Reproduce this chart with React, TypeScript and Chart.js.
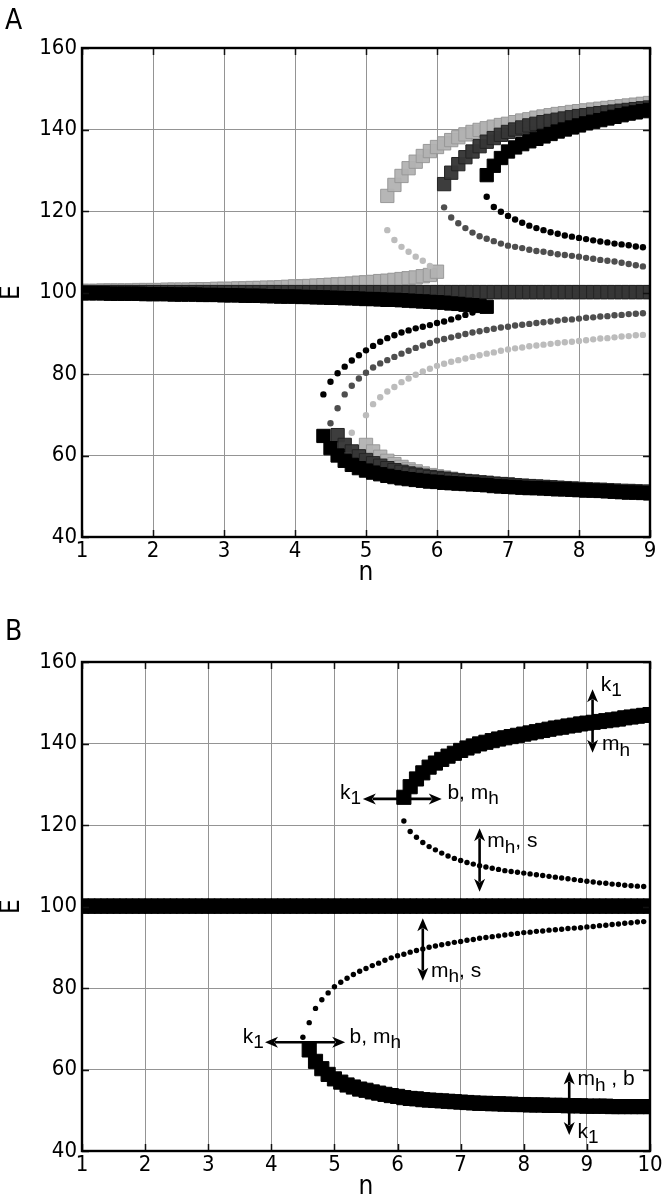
import { useEffect, useRef } from 'react';
import { Chart, registerables } from 'chart.js';
Chart.register(...registerables);

// ---------- grids of n values (typed) ----------
const N_A = [
  1.0, 1.1, 1.2, 1.3, 1.4, 1.5, 1.6, 1.7, 1.8, 1.9,
  2.0, 2.1, 2.2, 2.3, 2.4, 2.5, 2.6, 2.7, 2.8, 2.9,
  3.0, 3.1, 3.2, 3.3, 3.4, 3.5, 3.6, 3.7, 3.8, 3.9,
  4.0, 4.1, 4.2, 4.3, 4.4, 4.5, 4.6, 4.7, 4.8, 4.9,
  5.0, 5.1, 5.2, 5.3, 5.4, 5.5, 5.6, 5.7, 5.8, 5.9,
  6.0, 6.1, 6.2, 6.3, 6.4, 6.5, 6.6, 6.7, 6.8, 6.9,
  7.0, 7.1, 7.2, 7.3, 7.4, 7.5, 7.6, 7.7, 7.8, 7.9,
  8.0, 8.1, 8.2, 8.3, 8.4, 8.5, 8.6, 8.7, 8.8, 8.9,
  9.0,
];
const N_B = [
  1.0, 1.1, 1.2, 1.3, 1.4, 1.5, 1.6, 1.7, 1.8, 1.9,
  2.0, 2.1, 2.2, 2.3, 2.4, 2.5, 2.6, 2.7, 2.8, 2.9,
  3.0, 3.1, 3.2, 3.3, 3.4, 3.5, 3.6, 3.7, 3.8, 3.9,
  4.0, 4.1, 4.2, 4.3, 4.4, 4.5, 4.6, 4.7, 4.8, 4.9,
  5.0, 5.1, 5.2, 5.3, 5.4, 5.5, 5.6, 5.7, 5.8, 5.9,
  6.0, 6.1, 6.2, 6.3, 6.4, 6.5, 6.6, 6.7, 6.8, 6.9,
  7.0, 7.1, 7.2, 7.3, 7.4, 7.5, 7.6, 7.7, 7.8, 7.9,
  8.0, 8.1, 8.2, 8.3, 8.4, 8.5, 8.6, 8.7, 8.8, 8.9,
  9.0, 9.1, 9.2, 9.3, 9.4, 9.5, 9.6, 9.7, 9.8, 9.9,
  10.0,
];

// ---------- tick labels ----------
const X_TICKS_A = [1, 2, 3, 4, 5, 6, 7, 8, 9];
const X_TICKS_B = [1, 2, 3, 4, 5, 6, 7, 8, 9, 10];
const Y_TICKS = [40, 60, 80, 100, 120, 140, 160];

// ---------- panel A : black parameter set ----------
const A_K_MID_START = 1.0;
const A_K_MID = [
  99.8, 99.8, 99.8, 99.8, 99.7, 99.7, 99.7, 99.7, 99.7, 99.6, 99.6,
  99.6, 99.6, 99.5, 99.5, 99.5, 99.5, 99.4, 99.4, 99.4, 99.3,
  99.3, 99.3, 99.2, 99.2, 99.2, 99.1, 99.1, 99.0, 99.0, 99.0,
  98.9, 98.9, 98.8, 98.8, 98.7, 98.7, 98.6, 98.6, 98.5, 98.4,
  98.4, 98.3, 98.2, 98.2, 98.1, 98.0, 97.9, 97.8, 97.7, 97.6,
  97.5, 97.3, 97.2, 97.0, 96.9, 96.7, 96.5,
];
const A_K_LOWU_START = 4.4;
const A_K_LOWU = [
  75.0, 78.1, 80.2, 81.8, 83.3, 84.6, 85.8, 86.9, 87.9, 88.8, 89.5, 90.2,
  90.7, 91.2, 91.6, 92.0, 92.5, 92.9, 93.4, 93.9, 94.5, 95.1, 95.8,
];
const A_K_UPU_START = 6.7;
const A_K_UPU = [
  123.5, 121.0, 119.8, 118.8, 117.9, 117.1, 116.4, 115.8, 115.3, 114.8, 114.4, 114.0,
  113.7, 113.4, 113.1, 112.8, 112.5, 112.3, 112.0, 111.8, 111.6, 111.3, 111.1,
];
const A_K_UP_START = 6.7;
const A_K_UP = [
  128.8, 131.1, 133.0, 134.6, 135.6, 136.4, 137.1, 137.7, 138.3, 138.9, 139.5, 140.0,
  140.5, 141.0, 141.5, 141.9, 142.3, 142.7, 143.1, 143.5, 143.9, 144.2, 144.5, 144.8,
];
const A_K_LOW_START = 4.4;
const A_K_LOW = [
  64.8, 61.8, 60.0, 58.7, 57.7, 56.9, 56.3, 55.8, 55.4, 55.0,
  54.7, 54.4, 54.2, 54.0, 53.8, 53.6, 53.5, 53.3, 53.2, 53.1,
  53.0, 52.9, 52.8, 52.7, 52.5, 52.4, 52.3, 52.2, 52.1, 52.0,
  52.0, 51.9, 51.8, 51.7, 51.7, 51.6, 51.5, 51.4, 51.4, 51.3,
  51.2, 51.1, 51.0, 50.9, 50.9, 50.8, 50.7,
];

// ---------- panel A : dark grey parameter set ----------
const A_D_MID_START = 1.0;
const A_D_MID = [
  100.1, 100.1, 100.1, 100.1, 100.1, 100.1, 100.1, 100.1, 100.1, 100.1,
  100.1, 100.1, 100.1, 100.1, 100.1, 100.1, 100.1, 100.1, 100.1, 100.1,
  100.1, 100.1, 100.1, 100.1, 100.1, 100.1, 100.1, 100.1, 100.1, 100.1,
  100.1, 100.1, 100.1, 100.1, 100.1, 100.1, 100.1, 100.1, 100.1, 100.1,
  100.1, 100.1, 100.1, 100.1, 100.1, 100.1, 100.1, 100.1, 100.1, 100.1,
  100.1, 100.1, 100.1, 100.1, 100.1, 100.1, 100.1, 100.1, 100.1, 100.1,
  100.1, 100.1, 100.1, 100.1, 100.1, 100.1, 100.1, 100.1, 100.1, 100.1,
  100.1, 100.1, 100.1, 100.1, 100.1, 100.1, 100.1, 100.1, 100.1, 100.1,
  100.1,
];
const A_D_LOWU_START = 4.5;
const A_D_LOWU = [
  67.9, 71.6, 75.0, 77.1, 78.9, 80.3, 81.6, 82.6, 83.4, 84.2,
  85.0, 85.7, 86.4, 87.0, 87.6, 88.2, 88.6, 89.0, 89.4, 89.8,
  90.2, 90.5, 90.8, 91.1, 91.4, 91.6, 91.9, 92.1, 92.3, 92.5,
  92.7, 92.9, 93.1, 93.3, 93.4, 93.6, 93.8, 93.9, 94.1, 94.2,
  94.4, 94.5, 94.7, 94.8, 94.9,
];
const A_D_LOW_START = 4.6;
const A_D_LOW = [
  65.0, 62.6, 61.0, 59.8, 58.9, 58.1, 57.5, 56.9, 56.4, 56.0,
  55.6, 55.3, 55.0, 54.7, 54.5, 54.3, 54.1, 53.9, 53.7, 53.6,
  53.4, 53.3, 53.1, 53.0, 52.9, 52.7, 52.6, 52.5, 52.4, 52.3,
  52.2, 52.1, 52.0, 51.9, 51.8, 51.7, 51.6, 51.6, 51.5, 51.4,
  51.3, 51.3, 51.2, 51.1, 51.1,
];
const A_D_UPU_START = 6.1;
const A_D_UPU = [
  120.9, 118.4, 117.0, 115.8, 114.7, 113.8, 113.2, 112.6, 112.0, 111.5,
  111.2, 110.9, 110.5, 110.2, 110.0, 109.7, 109.4, 109.2, 109.0, 108.8,
  108.5, 108.3, 108.0, 107.8, 107.6, 107.3, 107.0, 106.7, 106.4,
];
const A_D_UP_START = 6.1;
const A_D_UP = [
  126.6, 129.4, 131.5, 133.2, 134.6, 135.9, 137.0, 137.9, 138.7, 139.4,
  140.0, 140.5, 141.0, 141.4, 141.8, 142.1, 142.4, 142.7, 143.0, 143.3,
  143.5, 143.8, 144.0, 144.2, 144.4, 144.6, 144.8, 145.0, 145.2, 145.4,
];

// ---------- panel A : light grey parameter set ----------
const A_L_MID_START = 1.0;
const A_L_MID = [
  100.4, 100.4, 100.4, 100.5, 100.5, 100.5, 100.5, 100.5, 100.6, 100.6,
  100.6, 100.6, 100.7, 100.7, 100.7, 100.7, 100.8, 100.8, 100.8, 100.9,
  100.9, 100.9, 101.0, 101.0, 101.1, 101.1, 101.2, 101.2, 101.3, 101.4,
  101.5, 101.5, 101.6, 101.7, 101.8, 101.9, 102.0, 102.1, 102.2, 102.4,
  102.5, 102.6, 102.8, 102.9, 103.1, 103.3, 103.5, 103.7, 104.0, 104.3,
  105.1,
];
const A_L_UPU_START = 5.3;
const A_L_UPU = [115.3, 112.9, 111.2, 110.0, 108.8, 107.8, 106.5];
const A_L_UP_START = 5.3;
const A_L_UP = [
  123.7, 126.4, 128.6, 130.5, 132.1, 133.5, 134.7, 135.7, 136.6, 137.4,
  138.1, 138.8, 139.4, 139.9, 140.3, 140.7, 141.1, 141.4, 141.8, 142.2,
  142.5, 142.9, 143.2, 143.5, 143.8, 144.0, 144.3, 144.5, 144.7, 144.9,
  145.1, 145.3, 145.5, 145.7, 145.9, 146.1, 146.3, 146.5,
];
const A_L_LOWU_START = 4.8;
const A_L_LOWU = [
  65.6, null, 69.9, 72.6, 74.3, 75.7, 76.8, 78.0, 78.9, 79.8, 80.6, 81.3,
  82.0, 82.5, 83.0, 83.4, 83.8, 84.2, 84.6, 85.0, 85.3, 85.7,
  86.0, 86.3, 86.5, 86.8, 87.0, 87.2, 87.4, 87.6, 87.8, 87.9,
  88.1, 88.3, 88.5, 88.7, 88.8, 89.0, 89.2, 89.3, 89.5, 89.6,
];
const A_L_LOW_START = 5.0;
const A_L_LOW = [
  62.6, 61.0, 59.7, 58.7, 57.9, 57.2, 56.6, 56.1, 55.6, 55.2,
  54.9, 54.6, 54.3, 54.0, 53.8, 53.6, 53.4, 53.2, 53.0, 52.9,
  52.7, 52.6, 52.5, 52.3, 52.2, 52.1, 52.0, 51.9, 51.8, 51.7,
  51.7, 51.6, 51.5, 51.4, 51.4, 51.3, 51.2, 51.2, 51.1, 51.1,
  51.0,
];

// ---------- panel B ----------
const B_MID_START = 1.0;
const B_MID = [
  100.1, 100.1, 100.1, 100.1, 100.1, 100.1, 100.1, 100.1, 100.1, 100.1,
  100.1, 100.1, 100.1, 100.1, 100.1, 100.1, 100.1, 100.1, 100.1, 100.1,
  100.1, 100.1, 100.1, 100.1, 100.1, 100.1, 100.1, 100.1, 100.1, 100.1,
  100.1, 100.1, 100.1, 100.1, 100.1, 100.1, 100.1, 100.1, 100.1, 100.1,
  100.1, 100.1, 100.1, 100.1, 100.1, 100.1, 100.1, 100.1, 100.1, 100.1,
  100.1, 100.1, 100.1, 100.1, 100.1, 100.1, 100.1, 100.1, 100.1, 100.1,
  100.1, 100.1, 100.1, 100.1, 100.1, 100.1, 100.1, 100.1, 100.1, 100.1,
  100.1, 100.1, 100.1, 100.1, 100.1, 100.1, 100.1, 100.1, 100.1, 100.1,
  100.1, 100.1, 100.1, 100.1, 100.1, 100.1, 100.1, 100.1, 100.1, 100.1,
  100.1,
];
const B_UP_START = 6.1;
const B_UP = [
  126.8, 129.4, 131.3, 132.8, 134.2, 135.2, 136.1, 136.9, 137.6, 138.3,
  138.9, 139.4, 139.9, 140.3, 140.7, 141.1, 141.4, 141.7, 142.0, 142.3,
  142.6, 142.9, 143.2, 143.5, 143.8, 144.0, 144.3, 144.5, 144.8, 145.0,
  145.2, 145.4, 145.6, 145.8, 146.0, 146.3, 146.5, 146.7, 146.9, 147.1,
];
const B_UPU_START = 6.1;
const B_UPU = [
  121.0, 118.4, 117.0, 115.7, 114.7, 113.9, 113.1, 112.4, 111.8, 111.3,
  110.8, 110.4, 110.0, 109.7, 109.4, 109.1, 108.8, 108.6, 108.4, 108.2,
  108.0, 107.8, 107.6, 107.4, 107.2, 107.0, 106.8, 106.6, 106.4, 106.2,
  106.0, 105.8, 105.7, 105.5, 105.4, 105.2, 105.1, 105.0, 104.9,
];
const B_LOWU_START = 4.5;
const B_LOWU = [
  67.9, 71.5, 75.0, 77.1, 78.8, 80.3, 81.4, 82.4, 83.3, 84.1,
  84.8, 85.5, 86.1, 86.8, 87.4, 87.9, 88.3, 88.8, 89.2, 89.6,
  90.0, 90.3, 90.6, 90.9, 91.2, 91.4, 91.7, 91.9, 92.2, 92.4,
  92.6, 92.8, 93.0, 93.2, 93.4, 93.6, 93.7, 93.9, 94.0, 94.2,
  94.3, 94.4, 94.6, 94.7, 94.8, 95.0, 95.1, 95.3, 95.4, 95.6,
  95.7, 95.9, 96.0, 96.2, 96.3,
];
const B_LOW_START = 4.6;
const B_LOW = [
  64.8, 62.0, 60.2, 58.8, 57.7, 56.9, 56.2, 55.7, 55.2, 54.9,
  54.5, 54.2, 53.9, 53.6, 53.4, 53.1, 52.9, 52.8, 52.6, 52.5,
  52.4, 52.3, 52.2, 52.1, 52.0, 51.9, 51.8, 51.7, 51.7, 51.6,
  51.6, 51.5, 51.5, 51.4, 51.4, 51.3, 51.3, 51.3, 51.2, 51.2,
  51.2, 51.1, 51.1, 51.1, 51.0, 51.0, 51.0, 51.0, 50.9, 50.9,
  50.9, 50.9, 50.9, 50.9, 50.9,
];

// ---------- panel B annotations (data coordinates) ----------
// double-headed arrows: [n1, E1, n2, E2]
const B_ARROWS = [
  [9.09, 153.3, 9.09, 137.7],
  [5.45, 126.4, 6.70, 126.4],
  [7.30, 119.2, 7.30, 103.6],
  [6.40, 97.1, 6.40, 81.8],
  [3.90, 66.7, 5.17, 66.7],
  [8.72, 59.5, 8.72, 43.9],
];
// labels: [n, E, align, segments]  segment: [text, isSubscript]
const B_LABELS: [number, number, string, [string, number][]][] = [
  [9.22, 154.3, 'left', [['k', 0], ['1', 1]]],
  [9.24, 139.8, 'left', [['m', 0], ['h', 1]]],
  [5.42, 127.8, 'right', [['k', 0], ['1', 1]]],
  [6.79, 127.8, 'left', [['b, m', 0], ['h', 1]]],
  [7.42, 116.0, 'left', [['m', 0], ['h', 1], [', s', 0]]],
  [6.53, 84.2, 'left', [['m', 0], ['h', 1], [', s', 0]]],
  [3.88, 68.0, 'right', [['k', 0], ['1', 1]]],
  [5.24, 68.0, 'left', [['b, m', 0], ['h', 1]]],
  [8.85, 57.6, 'left', [['m', 0], ['h', 1], [' , b', 0]]],
  [8.85, 44.6, 'left', [['k', 0], ['1', 1]]],
];

const AXIS_FONT = '"DejaVu Sans Condensed", "DejaVu Sans", sans-serif';
const NOTE_FONT = '"Liberation Sans", Arial, sans-serif';

function pts(grid: number[], start: number, vals: (number | null)[]) {
  const i0 = grid.indexOf(start);
  return vals.map((v, i) => ({ x: grid[i0 + i], y: v }));
}

function squares(data: any[], fill: string, border: string, r: number) {
  return {
    data,
    pointStyle: 'rect',
    pointRadius: r,
    backgroundColor: fill,
    borderColor: border,
    borderWidth: 1,
    showLine: false,
  };
}
function dots(data: any[], fill: string, r: number) {
  return {
    data,
    pointStyle: 'circle',
    pointRadius: r,
    backgroundColor: fill,
    borderColor: fill,
    borderWidth: 0,
    showLine: false,
  };
}

const framePlugin = {
  id: 'frame',
  afterDraw(chart: any, _args: any, opts: any) {
    const { ctx, chartArea: a, scales } = chart;
    const xs = scales.x;
    const ys = scales.y;
    ctx.save();
    // inner tick marks on all four sides
    ctx.strokeStyle = '#111';
    ctx.lineWidth = 1.5;
    ctx.beginPath();
    xs.ticks.forEach((t: any) => {
      const px = Math.round(xs.getPixelForValue(t.value)) + 0.5;
      ctx.moveTo(px, a.top);
      ctx.lineTo(px, a.top + 7);
      ctx.moveTo(px, a.bottom);
      ctx.lineTo(px, a.bottom - 7);
    });
    ys.ticks.forEach((t: any) => {
      const py = Math.round(ys.getPixelForValue(t.value)) + 0.5;
      ctx.moveTo(a.left, py);
      ctx.lineTo(a.left + 7, py);
      ctx.moveTo(a.right, py);
      ctx.lineTo(a.right - 7, py);
    });
    ctx.stroke();
    // frame
    ctx.lineWidth = 2.4;
    ctx.strokeStyle = '#000';
    ctx.strokeRect(a.left, a.top, a.right - a.left, a.bottom - a.top);
    // panel letter
    ctx.fillStyle = '#000';
    ctx.font = '28px ' + AXIS_FONT;
    ctx.textAlign = 'left';
    ctx.textBaseline = 'alphabetic';
    ctx.fillText(opts.letter, 5, opts.letterY);

    // annotations
    const arrows = opts.arrows || [];
    const head = 13;
    const hw = 5.5;
    arrows.forEach((ar: number[]) => {
      const x1 = xs.getPixelForValue(ar[0]);
      const y1 = ys.getPixelForValue(ar[1]);
      const x2 = xs.getPixelForValue(ar[2]);
      const y2 = ys.getPixelForValue(ar[3]);
      const ang = Math.atan2(y2 - y1, x2 - x1);
      const cx = Math.cos(ang);
      const sy = Math.sin(ang);
      ctx.strokeStyle = '#000';
      ctx.fillStyle = '#000';
      ctx.lineWidth = 2.6;
      ctx.beginPath();
      ctx.moveTo(x1 + cx * (head - 3), y1 + sy * (head - 3));
      ctx.lineTo(x2 - cx * (head - 3), y2 - sy * (head - 3));
      ctx.stroke();
      const tip = (tx: number, ty: number, dx: number, dy: number) => {
        ctx.beginPath();
        ctx.moveTo(tx, ty);
        ctx.lineTo(tx - dx * head - dy * hw, ty - dy * head + dx * hw);
        ctx.lineTo(tx - dx * head * 0.72, ty - dy * head * 0.72);
        ctx.lineTo(tx - dx * head + dy * hw, ty - dy * head - dx * hw);
        ctx.closePath();
        ctx.fill();
      };
      tip(x2, y2, cx, sy);
      tip(x1, y1, -cx, -sy);
    });
    const labels = opts.labels || [];
    labels.forEach((lb: any) => {
      const [n, e, align, segs] = lb;
      const px = xs.getPixelForValue(n);
      const py = ys.getPixelForValue(e);
      const mainF = '21px ' + NOTE_FONT;
      const subF = '19px ' + NOTE_FONT;
      let w = 0;
      segs.forEach((s: any) => {
        ctx.font = s[1] ? subF : mainF;
        w += ctx.measureText(s[0]).width;
      });
      let x = align === 'right' ? px - w : px;
      ctx.textAlign = 'left';
      ctx.textBaseline = 'middle';
      ctx.fillStyle = '#000';
      segs.forEach((s: any) => {
        ctx.font = s[1] ? subF : mainF;
        ctx.fillText(s[0], x, py + (s[1] ? 6 : 0));
        x += ctx.measureText(s[0]).width;
      });
    });
    ctx.restore();
  },
};

function baseOptions(p: any) {
  return {
    responsive: false,
    animation: false,
    events: [],
    layout: { padding: { left: 0, top: p.top, right: 14, bottom: 0 } },
    plugins: {
      legend: { display: false },
      tooltip: { enabled: false },
      frame: { letter: p.letter, letterY: p.letterY, arrows: p.arrows, labels: p.labels },
    },
    scales: {
      x: {
        type: 'linear',
        min: p.xmin,
        max: p.xmax,
        afterFit: (s: any) => {
          s.height = p.xh;
        },
        afterBuildTicks: (s: any) => {
          s.ticks = p.xticks.map((v: number) => ({ value: v }));
        },
        ticks: {
          autoSkip: false,
          maxRotation: 0,
          padding: 1,
          color: '#000',
          font: { family: AXIS_FONT, size: 22 },
        },
        grid: { color: '#949494', lineWidth: 1, drawTicks: false },
        border: { display: false },
        title: {
          display: true,
          text: 'n',
          color: '#000',
          font: { family: AXIS_FONT, size: 26, lineHeight: 1 },
          padding: { top: 0, bottom: p.nPad },
        },
      },
      y: {
        type: 'linear',
        min: 40,
        max: 160,
        afterFit: (s: any) => {
          s.width = 82;
        },
        afterBuildTicks: (s: any) => {
          s.ticks = Y_TICKS.map((v: number) => ({ value: v }));
        },
        ticks: {
          autoSkip: false,
          padding: 5,
          color: '#000',
          font: { family: AXIS_FONT, size: 22 },
        },
        grid: { color: '#949494', lineWidth: 1, drawTicks: false },
        border: { display: false },
        title: {
          display: true,
          text: 'E',
          color: '#000',
          font: { family: AXIS_FONT, size: 26, lineHeight: 1 },
          padding: { top: -1, bottom: 0 },
        },
      },
    },
  };
}

const LIGHT_SQ = 'rgba(178,178,178,0.95)';
const LIGHT_SQ_B = 'rgba(150,150,150,0.95)';
const DARK_SQ = 'rgba(55,55,55,0.97)';
const DARK_SQ_B = 'rgba(35,35,35,1)';
const LIGHT_DOT = '#bcbcbc';
const DARK_DOT = '#4e4e4e';
const SQ_R_A = 9.4;
const SQ_R_B = 10;

function configA() {
  const datasets = [
    dots(pts(N_A, A_K_UPU_START, A_K_UPU), '#000', 3.2),
    dots(pts(N_A, A_K_LOWU_START, A_K_LOWU), '#000', 3.2),
    dots(pts(N_A, A_D_UPU_START, A_D_UPU), DARK_DOT, 3.2),
    dots(pts(N_A, A_D_LOWU_START, A_D_LOWU), DARK_DOT, 3.2),
    dots(pts(N_A, A_L_UPU_START, A_L_UPU), LIGHT_DOT, 3.2),
    dots(pts(N_A, A_L_LOWU_START, A_L_LOWU), LIGHT_DOT, 3.2),
    squares(pts(N_A, A_K_MID_START, A_K_MID), '#000', '#000', SQ_R_A),
    squares(pts(N_A, A_K_UP_START, A_K_UP), '#000', '#000', SQ_R_A),
    squares(pts(N_A, A_K_LOW_START, A_K_LOW), '#000', '#000', SQ_R_A),
    squares(pts(N_A, A_D_MID_START, A_D_MID), DARK_SQ, DARK_SQ_B, SQ_R_A),
    squares(pts(N_A, A_D_UP_START, A_D_UP), DARK_SQ, DARK_SQ_B, SQ_R_A),
    squares(pts(N_A, A_D_LOW_START, A_D_LOW), DARK_SQ, DARK_SQ_B, SQ_R_A),
    squares(pts(N_A, A_L_MID_START, A_L_MID), LIGHT_SQ, LIGHT_SQ_B, SQ_R_A),
    squares(pts(N_A, A_L_UP_START, A_L_UP), LIGHT_SQ, LIGHT_SQ_B, SQ_R_A),
    squares(pts(N_A, A_L_LOW_START, A_L_LOW), LIGHT_SQ, LIGHT_SQ_B, SQ_R_A),
  ];
  return {
    type: 'scatter',
    data: { datasets },
    options: baseOptions({
      top: 48, xh: 63, xmin: 1, xmax: 9, xticks: X_TICKS_A, nPad: 14,
      letter: 'A', letterY: 29, arrows: [], labels: [],
    }),
    plugins: [framePlugin],
  };
}

function configB() {
  const datasets = [
    dots(pts(N_B, B_UPU_START, B_UPU), '#000', 2.7),
    dots(pts(N_B, B_LOWU_START, B_LOWU), '#000', 2.7),
    squares(pts(N_B, B_MID_START, B_MID), '#000', '#000', SQ_R_B),
    squares(pts(N_B, B_UP_START, B_UP), '#000', '#000', SQ_R_B),
    squares(pts(N_B, B_LOW_START, B_LOW), '#000', '#000', SQ_R_B),
  ];
  return {
    type: 'scatter',
    data: { datasets },
    options: baseOptions({
      top: 62, xh: 49, xmin: 1, xmax: 10, xticks: X_TICKS_B, nPad: 0,
      letter: 'B', letterY: 40, arrows: B_ARROWS, labels: B_LABELS,
    }),
    plugins: [framePlugin],
  };
}

function Panel({ make, top }: { make: () => any; top: number }) {
  const ref = useRef<HTMLCanvasElement>(null);
  useEffect(() => {
    const chart = new Chart(ref.current as HTMLCanvasElement, make());
    return () => chart.destroy();
  }, [make]);
  return (
    <div style={{ position: 'absolute', left: 0, top, width: 664, height: 600 }}>
      <canvas ref={ref} width={664} height={600} style={{ width: 664, height: 600, display: 'block' }} />
    </div>
  );
}

export default function App() {
  return (
    <div style={{ position: 'absolute', left: 0, top: 0, width: 664, height: 1200, background: '#fff' }}>
      <Panel make={configA} top={0} />
      <Panel make={configB} top={600} />
    </div>
  );
}
